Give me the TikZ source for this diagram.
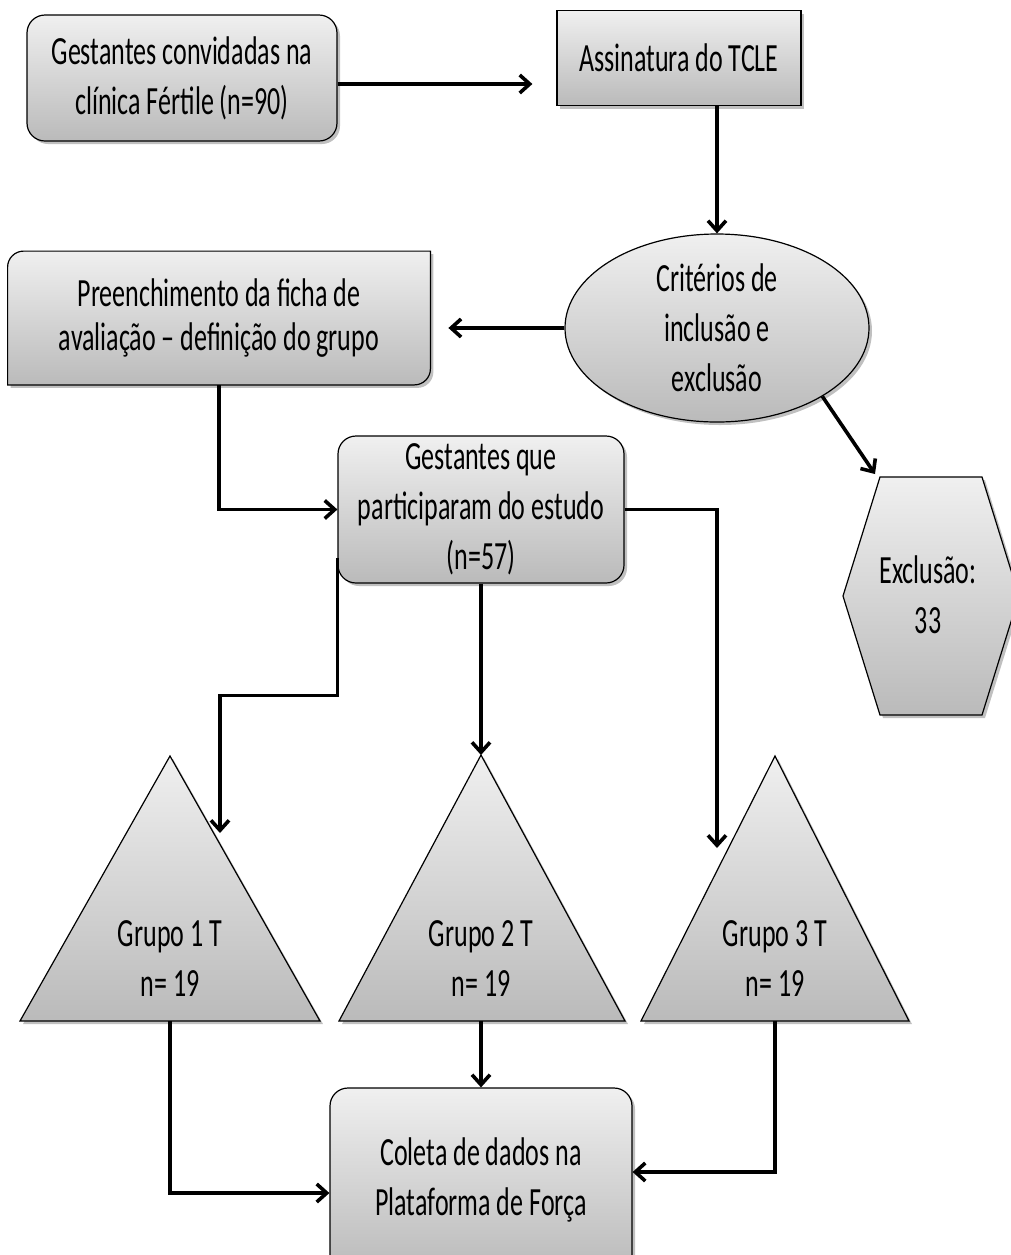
\documentclass[tikz,border=0pt]{standalone}
\usepackage{fontspec}
\setmainfont[FakeStretch=0.65]{Carlito}
\usepackage{tikz}
\usetikzlibrary{shapes.geometric, arrows.meta, positioning, shadows, backgrounds, calc}

\begin{document}
\begin{tikzpicture}[
  x=0.5pt, y=-0.5pt,
  txt/.style={align=center, font=\fontsize{20}{25}\selectfont, text=black, inner sep=0pt},
  shade box/.style={draw=black, line width=0.6pt, top color=black!6, bottom color=black!27,
    drop shadow={shadow xshift=1.5pt, shadow yshift=-1.5pt, fill=black!45, opacity=0.55}},
  box/.style={txt, shade box, rectangle},
  rbox/.style={box, rounded corners=9pt},
  oval/.style={txt, shade box, ellipse},
  arrow/.style={-{Straight Barb[length=5pt, width=9pt]}, line width=1.8pt, draw=black}
]
  \useasboundingbox (0,0) rectangle (1011,1255);

  % Recruitment
  \node[rbox, minimum width=155pt, minimum height=63pt] (inv) at (182,78) {Gestantes convidadas na\\clínica Fértile (n=90)};
  \node[box, minimum width=122pt, minimum height=47.5pt] (tcle) at (679,58) {Assinatura do TCLE};
  \node[oval, minimum width=152pt, minimum height=94pt] (crit) at (717,328) {Critérios de\\inclusão e\\exclusão};
  \draw[arrow, shorten >=12pt] ([yshift=-3pt]inv.east) -- ([yshift=-3pt]inv.east -| tcle.west);
  \draw[arrow] (tcle.south -| crit.north) -- (crit.north);

  % Evaluation and exclusion
  \node[txt, minimum width=211pt, minimum height=66.5pt, font=\fontsize{20}{22}\selectfont] (prep) at (219,318) {Preenchimento da ficha de\\avaliação – definição do grupo};
  \begin{scope}[on background layer]
    \path[shade box] ([xshift=8pt]prep.north west) -- (prep.north east) -- ([yshift=8pt]prep.south east)
      arc[start angle=0, end angle=-90, radius=8pt] -- (prep.south west) -- ([yshift=-8pt]prep.north west)
      arc[start angle=180, end angle=90, radius=8pt] -- cycle;
  \end{scope}
  \path[shade box] (843,596) -- (880,477) -- (982,477) -- (1019,596) -- (982,715) -- (880,715) -- cycle;
  \node[txt] (excl) at (928,595) {Exclusão:\\33};
  \coordinate (exin) at (875,474);
  \draw[arrow, shorten >=9pt] (crit.west) -- (crit.west -| prep.east);
  \draw[arrow] (crit.-33) -- (exin);

  % Participants
  \node[rbox, minimum width=143pt, minimum height=73.5pt] (gest) at (481,509.5) {Gestantes que\\participaram do estudo\\(n=57)};
  \draw[arrow] (prep.south) |- (gest.west);

  % Groups
  \coordinate (t1top) at (170,756);
  \coordinate (t1base) at (170,1021);
  \coordinate (t2top) at (481,755);
  \coordinate (t2base) at (481,1021);
  \coordinate (t3top) at (775,756);
  \coordinate (t3base) at (775,1021);
  \path[shade box] (t1top) -- (320,1021) -- (20,1021) -- cycle;
  \path[shade box] (t2top) -- (625,1021) -- (339,1021) -- cycle;
  \path[shade box] (t3top) -- (909,1021) -- (641,1021) -- cycle;
  \node[txt] (grp1) at (170,959) {Grupo 1 T\\n= 19};
  \node[txt] (grp2) at (481,959) {Grupo 2 T\\n= 19};
  \node[txt] (grp3) at (775,959) {Grupo 3 T\\n= 19};
  \coordinate (g1in) at (220,833);
  \coordinate (g3in) at (717,848);
  \draw[arrow] ([yshift=13pt]gest.south west) -- ++(0,138) -| (g1in);
  \draw[arrow] (gest.south) -- (t2top);
  \draw[arrow] (gest.east) -| (g3in);

  % Data collection
  \node[rbox, minimum width=151pt, minimum height=92pt] (coll) at (481,1180) {Coleta de dados na\\Plataforma de Força};
  \draw[arrow] (t1base) |- ([yshift=-6.5pt]coll.west);
  \draw[arrow] (t2base) -- (coll.north);
  \draw[arrow] (t3base) |- ([yshift=4pt]coll.east);

\end{tikzpicture}
\end{document}
